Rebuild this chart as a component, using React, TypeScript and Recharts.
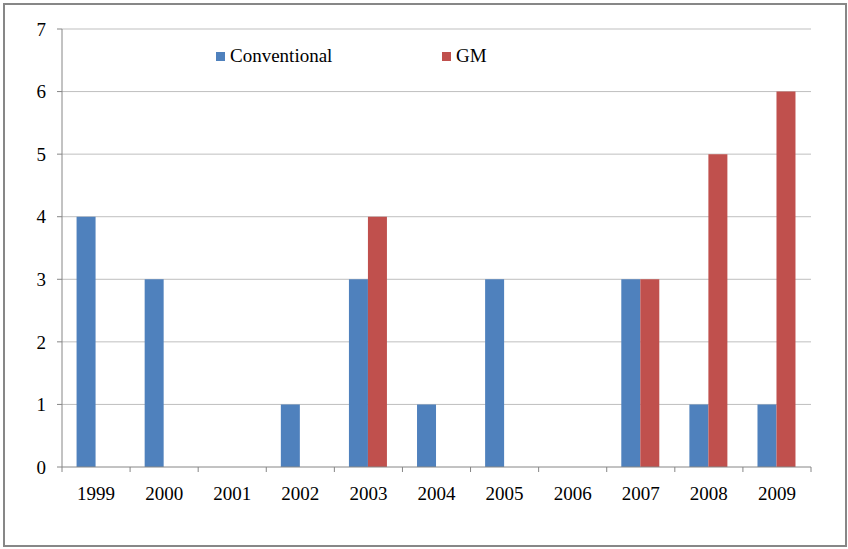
import React from "react";
import { BarChart, Bar, XAxis, YAxis, CartesianGrid, Legend } from "recharts";

const years = ["1999", "2000", "2001", "2002", "2003", "2004", "2005", "2006", "2007", "2008", "2009"];
const conventional = [4, 3, 0, 1, 3, 1, 3, 0, 3, 1, 1];
const gm = [0, 0, 0, 0, 4, 0, 0, 0, 3, 5, 6];
const yTicks = [0, 1, 2, 3, 4, 5, 6, 7];

const data = years.map((year, i) => ({ year, conventional: conventional[i], gm: gm[i] }));

const FONT = "Liberation Serif, Times New Roman, serif";
const BLUE = "#4F81BD";
const RED = "#C0504D";
const AXIS = "#868686";
const TICK_LEN = 5;
const LABEL_GAP = 20;

/* Excel-style legend: two items floating inside the plot, spread apart */
function ChartLegend() {
  const item = (left: number, color: string, label: string) => (
    <div style={{ position: "absolute", left, top: 0, height: 19 }}>
      <span style={{ position: "absolute", left: 0, top: 6, width: 9, height: 9, background: color }} />
      <span style={{ position: "absolute", left: 14, top: 0, whiteSpace: "nowrap", fontFamily: FONT, fontSize: 19, lineHeight: "19px", color: "#000" }}>
        {label}
      </span>
    </div>
  );
  return (
    <div style={{ position: "relative", width: 848, height: 20 }}>
      {item(216, BLUE, "Conventional")}
      {item(442, RED, "GM")}
    </div>
  );
}

/* category label + Excel-style tick marks on the band boundaries */
function YearTick(props: any) {
  const { x, y, payload, index, visibleTicksCount } = props;
  const half = payload.offset || 0;
  const axisY = y - LABEL_GAP;
  return (
    <g>
      <line x1={x - half} x2={x - half} y1={axisY} y2={axisY + TICK_LEN} stroke={AXIS} />
      {index === visibleTicksCount - 1 && (
        <line x1={x + half} x2={x + half} y1={axisY} y2={axisY + TICK_LEN} stroke={AXIS} />
      )}
      <text x={x} y={y} dy="0.71em" textAnchor="middle" fill="#000" fontSize={19} fontFamily={FONT}>
        {payload.value}
      </text>
    </g>
  );
}

export default function App() {
  return (
    <div style={{ position: "absolute", left: 0, top: 0, width: 848, height: 549, background: "#fff", fontFamily: FONT }}>
      <div style={{ position: "absolute", left: 3, top: 3, width: 840, height: 540, border: "2px solid #878787" }} />
      <BarChart width={848} height={549} data={data} style={{ fontFamily: FONT }}
        margin={{ top: 29, right: 37, bottom: 52, left: 12 }}
        barCategoryGap="21.4%" barGap={0}>
        <CartesianGrid stroke="#BFBFBF" vertical={false} horizontalValues={yTicks.slice(1)} />
        <XAxis dataKey="year" height={30} tickSize={0} tickMargin={LABEL_GAP}
          axisLine={{ stroke: AXIS }} tickLine={false} tick={<YearTick />} interval={0} />
        <YAxis domain={[0, 7]} ticks={yTicks} width={50} tickSize={TICK_LEN} tickMargin={11}
          axisLine={{ stroke: AXIS }} tickLine={{ stroke: AXIS }}
          tick={{ fill: "#000", fontSize: 19, fontFamily: FONT }} interval={0} />
        <Legend verticalAlign="middle" align="center" content={() => <ChartLegend />}
          wrapperStyle={{ position: "absolute", top: 46, left: 0, width: 848, height: 20 }} />
        <Bar dataKey="conventional" name="Conventional" fill={BLUE} isAnimationActive={false} />
        <Bar dataKey="gm" name="GM" fill={RED} isAnimationActive={false} />
      </BarChart>
    </div>
  );
}
